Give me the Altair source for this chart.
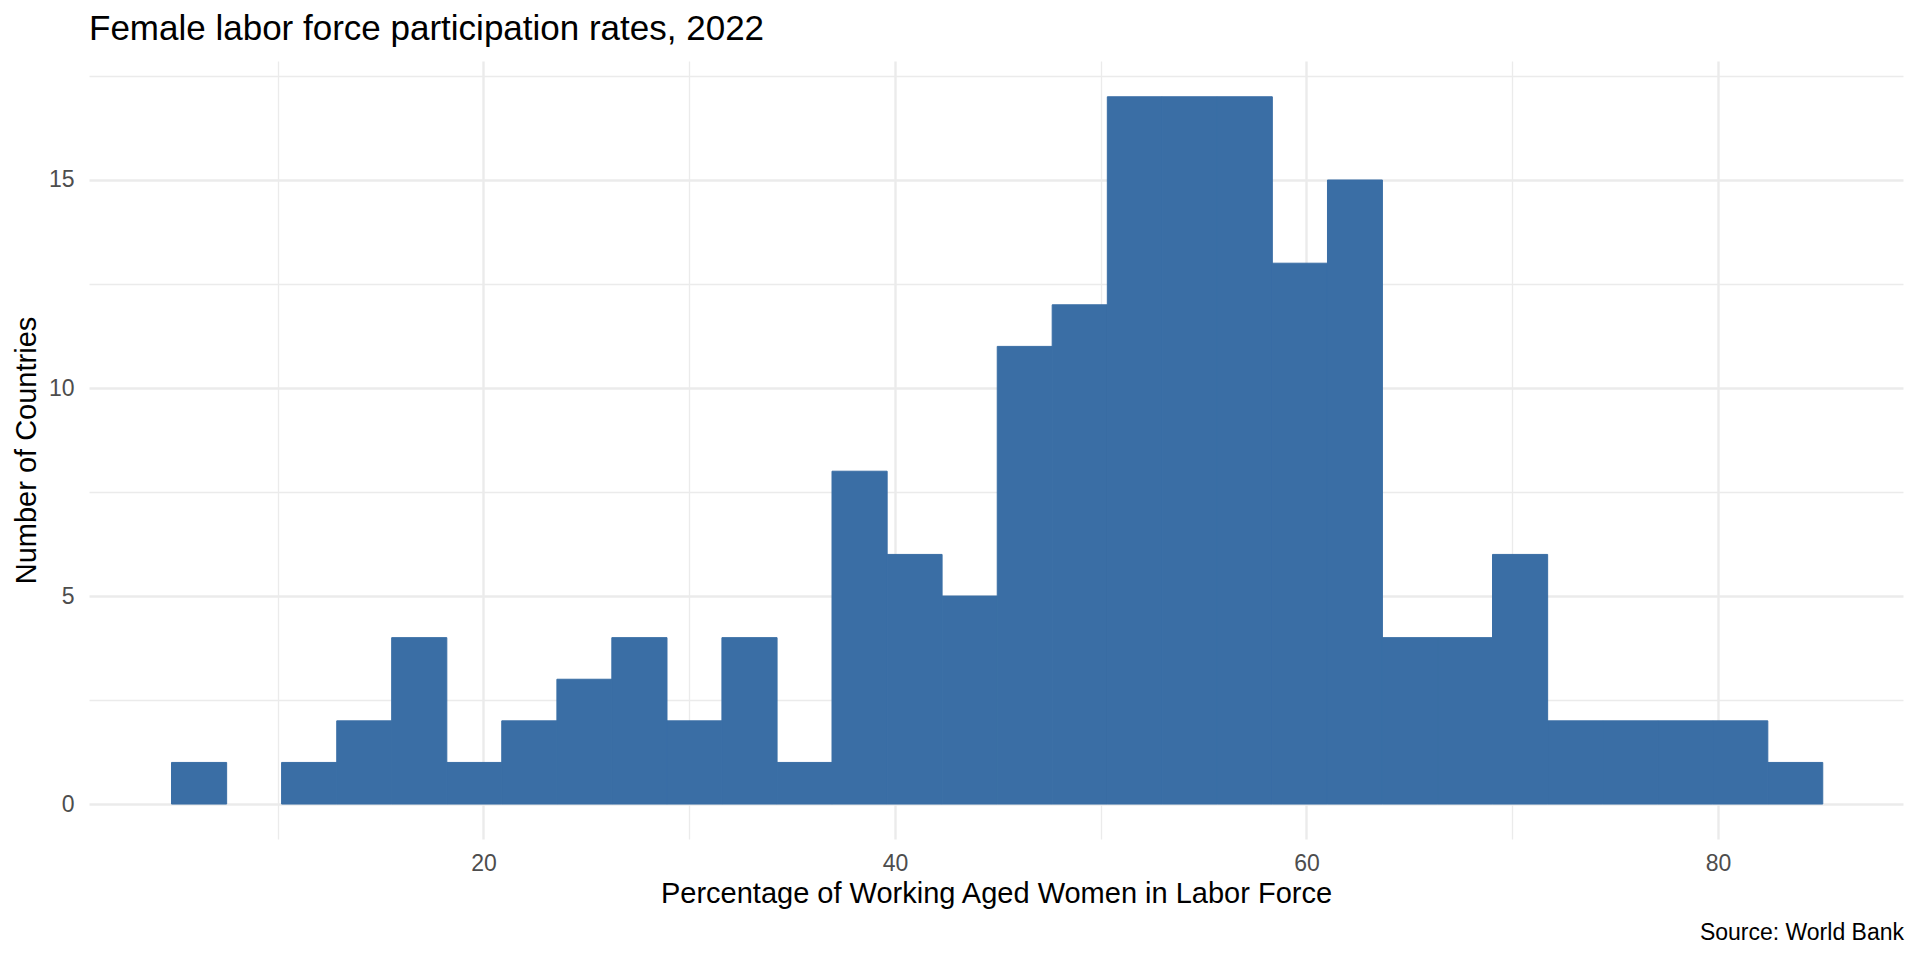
import altair as alt
import pandas as pd

# Histogram bins (percentage of working-aged women in labor force)
bin_left = [4.84, 7.52, 10.19, 12.87, 15.54, 18.22, 20.89, 23.57, 26.24, 28.92,
            31.59, 34.27, 36.94, 39.62, 42.29, 44.97, 47.64, 50.32, 52.99, 55.67,
            58.34, 61.02, 63.69, 66.37, 69.04, 71.72, 74.39, 77.07, 79.74, 82.42]
bin_right = [7.52, 10.19, 12.87, 15.54, 18.22, 20.89, 23.57, 26.24, 28.92, 31.59,
             34.27, 36.94, 39.62, 42.29, 44.97, 47.64, 50.32, 52.99, 55.67, 58.34,
             61.02, 63.69, 66.37, 69.04, 71.72, 74.39, 77.07, 79.74, 82.42, 85.09]
counts = [1, 0, 1, 2, 4, 1, 2, 3, 4, 2, 4, 1, 8, 6, 5, 11, 12, 17, 17, 17,
          13, 15, 4, 4, 6, 2, 2, 2, 2, 1]

x_ticks = [10, 20, 30, 40, 50, 60, 70, 80]
y_ticks = [0, 2.5, 5, 7.5, 10, 12.5, 15, 17.5]

title_text = "Female labor force participation rates, 2022"
x_title = "Percentage of Working Aged Women in Labor Force"
y_title = "Number of Countries"
caption_text = "Source: World Bank"

df = pd.DataFrame({"lo": bin_left, "hi": bin_right, "n": counts})
df = df[df["n"] > 0]
cap_df = pd.DataFrame({"t": [caption_text]})

FONT = "Liberation Sans"
W, H = 1814, 778
GRID = "#EBEBEB"
BAR = "#3A6EA5"
TICK_FS = 23
AXT_FS = 29

x_scale = alt.Scale(domain=[0.83, 88.99], nice=False, zero=False)
y_scale = alt.Scale(domain=[-0.84, 17.86], nice=False, zero=False)

x_axis = alt.Axis(
    values=x_ticks,
    labelExpr="datum.value % 20 == 0 ? datum.label : ''",
    title=x_title,
    grid=True,
    gridColor=GRID,
    gridWidth={"condition": {"test": "datum.value % 20 == 0", "value": 2.4}, "value": 1.3},
    domain=False,
    ticks=False,
    labelPadding=31,
    labelBaseline="alphabetic",
    labelFont=FONT,
    labelFontSize=TICK_FS,
    labelColor="#4D4D4D",
    titleFont=FONT,
    titleFontSize=AXT_FS,
    titleFontWeight="normal",
    titleColor="black",
    titleY=63,
    titleBaseline="alphabetic",
)
y_axis = alt.Axis(
    values=y_ticks,
    labelExpr="datum.value % 5 == 0 ? datum.label : ''",
    title=y_title,
    grid=True,
    gridColor=GRID,
    gridWidth={"condition": {"test": "datum.value % 5 == 0", "value": 2.4}, "value": 1.3},
    domain=False,
    ticks=False,
    labelPadding=15,
    labelFont=FONT,
    labelFontSize=TICK_FS,
    labelColor="#4D4D4D",
    titleFont=FONT,
    titleFontSize=AXT_FS,
    titleFontWeight="normal",
    titleColor="black",
    titleX=-54,
    titleY=H / 2,
    titleAngle=270,
    titleAlign="center",
    titleBaseline="alphabetic",
)

bars = alt.Chart(df).mark_bar(color=BAR, stroke=BAR, strokeWidth=1).encode(
    x=alt.X("lo:Q", scale=x_scale, axis=x_axis),
    x2="hi:Q",
    y=alt.Y("n:Q", scale=y_scale, axis=y_axis),
    y2=alt.datum(0),
)

caption = alt.Chart(cap_df).mark_text(
    align="right", baseline="alphabetic", font=FONT, fontSize=TICK_FS, color="black"
).encode(
    text="t:N",
    x=alt.value(W + 1),
    y=alt.value(879),
)

chart = alt.layer(bars, caption).properties(
    width=W,
    height=H,
    background="white",
    title=alt.TitleParams(
        text=title_text,
        anchor="start",
        frame="group",
        font=FONT,
        fontSize=35,
        fontWeight="normal",
        color="black",
        offset=14,
    ),
    autosize=alt.AutoSizeParams(type="none"),
    padding={"left": 81, "top": 53, "right": 9, "bottom": 105},
).configure_view(stroke=None)

chart.save("out.html", embed_options={"renderer": "svg", "actions": False})
